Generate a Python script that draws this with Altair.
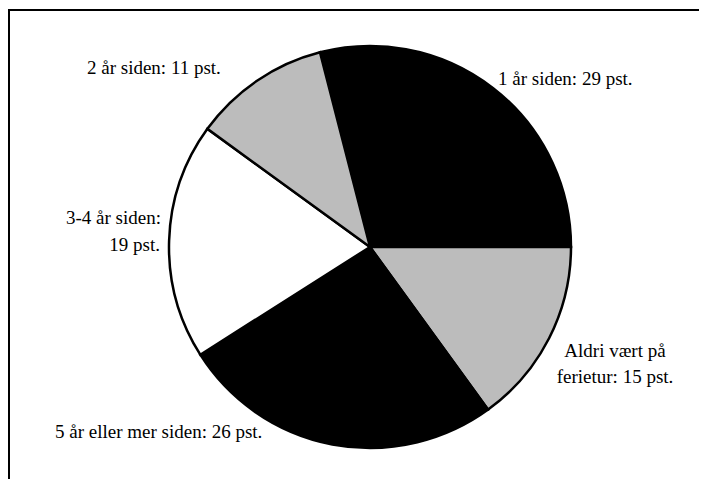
import math
import altair as alt
import pandas as pd

categories = ["1 år siden", "Aldri vært på ferietur", "5 år eller mer siden", "3-4 år siden", "2 år siden"]
values = [29, 15, 26, 19, 11]
fills = ["#000000", "#bcbcbc", "#000000", "#ffffff", "#bcbcbc"]

df = pd.DataFrame({"kategori": categories, "pst": values, "rekke": list(range(len(categories)))})

start = -values[0] / 100 * 2 * math.pi + math.pi / 2  # first slice ends at 3 o'clock

W, H = 691, 471
CX, CY, R = 362, 239, 201
FONT = "Liberation Serif"
FS = 19

pie = alt.Chart(df).mark_arc(
    outerRadius=R, stroke="black", strokeWidth=2.5
).encode(
    theta=alt.Theta("pst:Q", stack=True, scale=alt.Scale(range=[start, start + 2 * math.pi])),
    order=alt.Order("rekke:Q"),
    color=alt.Color("kategori:N", scale=alt.Scale(domain=categories, range=fills), legend=None),
    x=alt.value(CX),
    y=alt.value(CY),
)

def label(text, x, y, align="left"):
    return alt.Chart(pd.DataFrame({"t": [text]})).mark_text(
        font=FONT, fontSize=FS, align=align, baseline="alphabetic", color="black"
    ).encode(text="t:N", x=alt.value(x), y=alt.value(y))

labels = [
    label("1 år siden: 29 pst.", 490, 77),
    label("2 år siden: 11 pst.", 79, 66),
    label("3-4 år siden:", 153, 216, "right"),
    label("19 pst.", 152, 243, "right"),
    label("Aldri vært på", 607, 349, "center"),
    label("ferietur: 15 pst.", 607, 375, "center"),
    label("5 år eller mer siden: 26 pst.", 47, 430),
]

frame_df = pd.DataFrame({"a": [0]})
top_line = alt.Chart(frame_df).mark_rule(color="black", strokeWidth=2).encode(
    x=alt.value(0), x2=alt.value(W + 8), y=alt.value(2)
)
left_line = alt.Chart(frame_df).mark_rule(color="black", strokeWidth=2).encode(
    x=alt.value(1), y=alt.value(2), y2=alt.value(H + 8)
)

chart = alt.layer(pie, top_line, left_line, *labels).properties(
    width=W, height=H, autosize=alt.AutoSizeParams(type="none"), padding=0
).configure_view(stroke=None)

chart.save("out.html", embed_options={"renderer": "svg", "actions": False})
